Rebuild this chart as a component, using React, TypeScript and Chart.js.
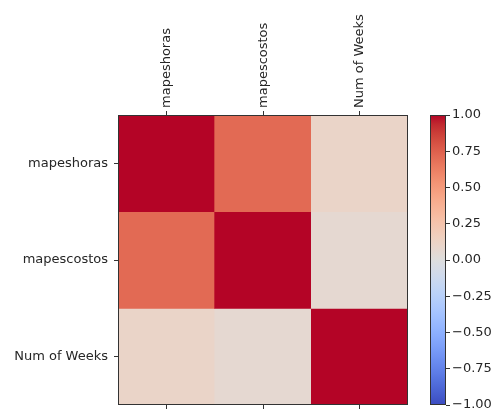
import React, { useEffect, useRef } from "react";
import { Chart, registerables } from "chart.js";

Chart.register(...registerables);

const rowLabels = ["mapeshoras", "mapescostos", "Num of Weeks"];
const colLabels = ["mapeshoras", "mapescostos", "Num of Weeks"];
const rowMapeshoras = [1.0, 0.71, 0.11];
const rowMapescostos = [0.71, 1.0, 0.06];
const rowNumWeeks = [0.11, 0.06, 1.0];
const matrix = [rowMapeshoras, rowMapescostos, rowNumWeeks];
const colorbarTicks = [-1, -0.75, -0.5, -0.25, 0, 0.25, 0.5, 0.75, 1];

const COOLWARM: [number, number, number][] = [
  [59, 76, 192], [68, 90, 204], [77, 104, 215], [87, 117, 225], [98, 130, 234],
  [108, 142, 241], [119, 154, 247], [130, 165, 251], [141, 176, 254], [152, 185, 255],
  [163, 194, 255], [174, 201, 253], [184, 208, 249], [194, 213, 244], [204, 217, 238],
  [213, 219, 230], [221, 221, 221], [229, 216, 209], [236, 211, 197], [241, 204, 185],
  [245, 196, 173], [247, 187, 160], [247, 177, 148], [247, 166, 135], [244, 154, 123],
  [241, 141, 111], [236, 127, 99], [229, 112, 88], [222, 96, 77], [213, 80, 66],
  [203, 62, 56], [192, 40, 47], [180, 4, 38],
];

function coolwarm(t: number): string {
  const x = Math.max(0, Math.min(1, t)) * (COOLWARM.length - 1);
  const i = Math.min(Math.floor(x), COOLWARM.length - 2);
  const f = x - i;
  const a = COOLWARM[i];
  const b = COOLWARM[i + 1];
  const c = a.map((v, k) => Math.round(v + (b[k] - v) * f));
  return `rgb(${c[0]},${c[1]},${c[2]})`;
}
const colorFor = (v: number) => coolwarm((v + 1) / 2);

const FONT = { family: "'DejaVu Sans', sans-serif", size: 13 };
const TEXT = "#262626";
const EDGE = "#333333";

const framePlugin = {
  id: "frame",
  afterDraw(chart: any) {
    const { ctx, chartArea } = chart;
    ctx.save();
    ctx.strokeStyle = EDGE;
    ctx.lineWidth = 1;
    ctx.strokeRect(
      Math.round(chartArea.left) + 0.5,
      Math.round(chartArea.top) + 0.5,
      Math.round(chartArea.right - chartArea.left) - 1,
      Math.round(chartArea.bottom - chartArea.top) - 1
    );
    ctx.restore();
  },
};

const noPadV = (s: any) => {
  s.paddingTop = 0;
  s.paddingBottom = 0;
};
const noPadH = (s: any) => {
  s.paddingLeft = 0;
  s.paddingRight = 0;
};

export default function App() {
  const heatRef = useRef<HTMLCanvasElement>(null);
  const barRef = useRef<HTMLCanvasElement>(null);

  useEffect(() => {
    const heat = new Chart(heatRef.current!, {
      type: "bar",
      data: {
        labels: colLabels,
        datasets: matrix.map((row, r) => ({
          label: rowLabels[r],
          data: row.map(() => [r, r + 1]) as any,
          backgroundColor: row.map(colorFor),
          borderWidth: 0,
          barPercentage: 1,
          categoryPercentage: 1,
          grouped: false,
        })),
      },
      options: {
        responsive: false,
        animation: false,
        layout: { padding: { left: 0, top: 0, right: 12, bottom: 0 } },
        plugins: { legend: { display: false }, tooltip: { enabled: false } },
        scales: {
          x: {
            type: "category",
            position: "top",
            grid: { offset: false, drawOnChartArea: false, drawTicks: true, tickLength: 4, color: EDGE },
            border: { display: false },
            ticks: { minRotation: 90, maxRotation: 90, padding: 3, labelOffset: 16, color: TEXT, font: FONT },
            afterFit: (s: any) => { s.height = 115; noPadH(s); },
          },
          x2: {
            type: "category",
            position: "bottom",
            labels: colLabels,
            grid: { offset: false, drawOnChartArea: false, drawTicks: true, tickLength: 4, color: EDGE },
            border: { display: false },
            ticks: { display: false },
            afterFit: (s: any) => { s.height = 6; noPadH(s); },
          },
          y: {
            type: "linear",
            min: 0,
            max: 3,
            reverse: true,
            grid: { drawOnChartArea: false, drawTicks: true, tickLength: 4, color: EDGE },
            border: { display: false },
            afterBuildTicks: (s: any) => {
              s.ticks = rowLabels.map((_, i) => ({ value: i + 0.5 }));
            },
            ticks: {
              padding: 6,
              color: TEXT,
              font: FONT,
              callback: (_v: any, i: number) => rowLabels[i],
            },
            afterFit: (s: any) => { s.width = 118; noPadV(s); },
          },
        },
      },
      plugins: [framePlugin],
    });

    const bar = new Chart(barRef.current!, {
      type: "bar",
      data: {
        labels: [""],
        datasets: [
          {
            data: [[-1, 1]] as any,
            borderWidth: 0,
            barPercentage: 1,
            categoryPercentage: 1,
            backgroundColor: (ctx: any) => {
              const area = ctx.chart.chartArea;
              if (!area) return "#ddd";
              const g = ctx.chart.ctx.createLinearGradient(0, area.bottom, 0, area.top);
              const n = 64;
              for (let i = 0; i <= n; i++) g.addColorStop(i / n, coolwarm(i / n));
              return g;
            },
          },
        ],
      },
      options: {
        responsive: false,
        animation: false,
        layout: { padding: { left: 10, top: 115, right: 0, bottom: 6 } },
        plugins: { legend: { display: false }, tooltip: { enabled: false } },
        scales: {
          x: { display: false },
          y: {
            position: "right",
            min: -1,
            max: 1,
            grid: { drawOnChartArea: false, drawTicks: true, tickLength: 4, color: EDGE },
            border: { display: false },
            afterBuildTicks: (s: any) => {
              s.ticks = colorbarTicks.map((v) => ({ value: v }));
            },
            ticks: {
              padding: 2,
              color: TEXT,
              font: FONT,
              callback: (v: any) => {
                const n = Number(v);
                const s = Math.abs(n).toFixed(2);
                return n < 0 ? "\u2212" + s : s;
              },
            },
            afterFit: (s: any) => { s.width = 50; noPadV(s); },
          },
        },
      },
      plugins: [framePlugin],
    });

    return () => {
      heat.destroy();
      bar.destroy();
    };
  }, []);

  return (
    <div
      style={{
        position: "fixed",
        left: 0,
        top: 0,
        width: 496,
        height: 411,
        background: "#ffffff",
        overflow: "hidden",
      }}
    >
      <canvas
        ref={heatRef}
        width={420}
        height={411}
        style={{ position: "absolute", left: 0, top: 0 }}
      />
      <canvas
        ref={barRef}
        width={76}
        height={411}
        style={{ position: "absolute", left: 420, top: 0 }}
      />
    </div>
  );
}
